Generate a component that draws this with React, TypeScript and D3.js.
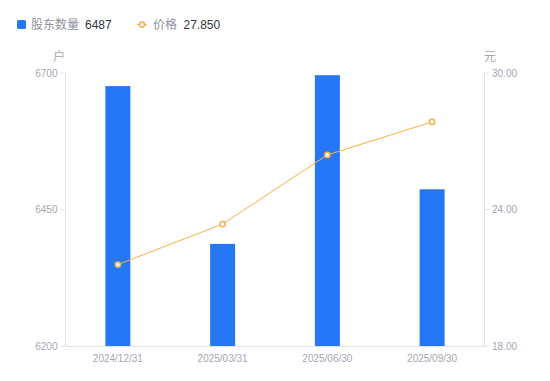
import React from "react";
import * as d3 from "d3";

const categories = ["2024/12/31", "2025/03/31", "2025/06/30", "2025/09/30"];
const holders = [6676, 6387, 6696, 6487];
const prices = [21.58, 23.36, 26.4, 27.85];
const leftTicks = [6200, 6450, 6700];
const rightTicks = [18, 24, 30];

const W = 550, H = 381;
const M = { left: 65.5, right: 484.5, top: 73, bottom: 346 };
const FONT = "'Liberation Sans', Arial, sans-serif";
const CJK = "'Noto Sans CJK SC', 'Liberation Sans', sans-serif";
const BLUE = "#2577F6";
const ORANGE = "#F7B146";
const AXIS = "#E3E3E6";
const TXT = "#A3A6B3";

export default function App() {
  const x = d3.scaleBand<string>().domain(categories).range([M.left, M.right]);
  const yL = d3.scaleLinear().domain([6200, 6700]).range([M.bottom, M.top]);
  const yR = d3.scaleLinear().domain([18, 30]).range([M.bottom, M.top]);
  const bw = 25;
  const cx = (c: string) => (x(c) as number) + x.bandwidth() / 2;
  const line = d3.line<number>().x((_, i) => cx(categories[i])).y((d) => yR(d));

  return (
    <svg width={W} height={H} style={{ position: "absolute", left: 0, top: 0 }}>
      {/* legend */}
      <rect x={17} y={20} width={9} height={9} rx={1.5} fill={BLUE} />
      <text x={31} y={29} fontSize={12} fontFamily={CJK} fill="#8F929E">股东数量</text>
      <text x={85} y={29} fontSize={12} fontFamily={FONT} fill="#33353C">{holders[holders.length - 1]}</text>
      <line x1={137} x2={147} y1={24.5} y2={24.5} stroke={ORANGE} strokeWidth={1.2} />
      <circle cx={142} cy={24.5} r={2.6} fill="#fff" stroke={ORANGE} strokeWidth={1.5} />
      <text x={153} y={29} fontSize={12} fontFamily={CJK} fill="#8F929E">价格</text>
      <text x={183.5} y={29} fontSize={12} fontFamily={FONT} fill="#33353C">{prices[prices.length - 1].toFixed(3)}</text>

      {/* unit labels */}
      <text x={59} y={61} fontSize={12} fontFamily={CJK} fill={TXT} textAnchor="middle">户</text>
      <text x={490} y={61} fontSize={12} fontFamily={CJK} fill={TXT} textAnchor="middle">元</text>

      {/* axes */}
      <line x1={M.left} x2={M.left} y1={M.top} y2={M.bottom} stroke={AXIS} />
      <line x1={M.right} x2={M.right} y1={M.top} y2={M.bottom} stroke={AXIS} />
      <line x1={M.left} x2={M.right} y1={M.bottom + 0.5} y2={M.bottom + 0.5} stroke={AXIS} />
      {leftTicks.map((t) => (
        <g key={"l" + t}>
          <line x1={M.left - 5} x2={M.left} y1={yL(t)} y2={yL(t)} stroke={AXIS} />
          <text x={M.left - 8} y={yL(t) + 3.5} fontSize={10} fontFamily={FONT} fill={TXT} textAnchor="end">{t}</text>
        </g>
      ))}
      {rightTicks.map((t) => (
        <g key={"r" + t}>
          <line x1={M.right} x2={M.right + 5} y1={yR(t)} y2={yR(t)} stroke={AXIS} />
          <text x={M.right + 7.5} y={yR(t) + 3.5} fontSize={10} fontFamily={FONT} fill={TXT}>{t.toFixed(2)}</text>
        </g>
      ))}
      {categories.map((c) => (
        <text key={c} x={cx(c)} y={362} fontSize={10} fontFamily={FONT} fill={TXT} textAnchor="middle">{c}</text>
      ))}

      {/* bars */}
      {holders.map((v, i) => (
        <rect key={i} x={cx(categories[i]) - bw / 2} y={yL(v)} width={bw} height={M.bottom - yL(v)} fill={BLUE} />
      ))}

      {/* line */}
      <path d={line(prices) || ""} fill="none" stroke={ORANGE} strokeWidth={1} />
      {prices.map((p, i) => (
        <circle key={i} cx={cx(categories[i])} cy={yR(p)} r={2.6} fill="#fff" stroke={ORANGE} strokeWidth={1.5} />
      ))}
    </svg>
  );
}
